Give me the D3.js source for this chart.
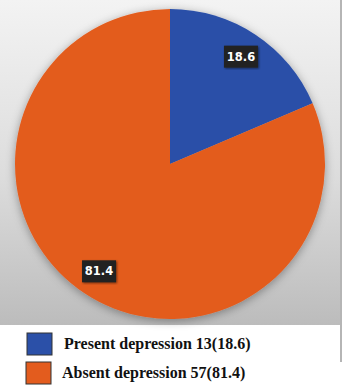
<!DOCTYPE html>
<html>
<head>
<meta charset="utf-8">
<script src="https://cdn.jsdelivr.net/npm/d3@7"></script>
<style>
  body { margin: 0; background: #fff; }
  svg { display: block; }
</style>
</head>
<body>
<div id="chart"></div>
<script>
// Data
const categories = ['Present depression', 'Absent depression'];
const counts = [13, 57];
const percents = [18.6, 81.4];
const colors = ['#2b50a8', '#e35c1e'];

const width = 348;
const height = 387;
const cx = 170;
const cy = 164;
const radius = 155;

const svg = d3
  .select('#chart')
  .append('svg')
  .attr('width', width)
  .attr('height', height);

const defs = svg.append('defs');

// Background gradient of the plot area
const bg = defs
  .append('linearGradient')
  .attr('id', 'bg')
  .attr('x1', 0)
  .attr('y1', 0)
  .attr('x2', 0)
  .attr('y2', 1);
bg.append('stop').attr('offset', '0%').attr('stop-color', '#f3f3f3');
bg.append('stop').attr('offset', '55%').attr('stop-color', '#dcdcdc');
bg.append('stop').attr('offset', '100%').attr('stop-color', '#bcbcbc');

// Soft shadow round the pie
const shadow = defs
  .append('filter')
  .attr('id', 'shadow')
  .attr('x', '-20%')
  .attr('y', '-20%')
  .attr('width', '140%')
  .attr('height', '140%');
shadow
  .append('feDropShadow')
  .attr('dx', 0)
  .attr('dy', 2)
  .attr('stdDeviation', 5)
  .attr('flood-color', '#000')
  .attr('flood-opacity', 0.35);

const labelShadow = defs.append('filter').attr('id', 'lshadow');
labelShadow
  .append('feDropShadow')
  .attr('dx', 1)
  .attr('dy', 1)
  .attr('stdDeviation', 1)
  .attr('flood-color', '#000')
  .attr('flood-opacity', 0.5);

svg
  .append('rect')
  .attr('x', 0)
  .attr('y', 0)
  .attr('width', 341)
  .attr('height', 325)
  .attr('fill', 'url(#bg)');

// right border line
svg
  .append('line')
  .attr('x1', 341)
  .attr('x2', 341)
  .attr('y1', 0)
  .attr('y2', 362)
  .attr('stroke', '#b5b5b5')
  .attr('stroke-width', 2);

// Pie
const pie = d3.pie().sort(null).value((d) => d);
const arcs = pie(percents);
const arc = d3.arc().innerRadius(0).outerRadius(radius);
const labelArc = d3
  .arc()
  .innerRadius(radius * 0.83)
  .outerRadius(radius * 0.83);

const g = svg.append('g').attr('transform', `translate(${cx},${cy})`);

g.append('g')
  .attr('filter', 'url(#shadow)')
  .selectAll('path')
  .data(arcs)
  .join('path')
  .attr('d', arc)
  .attr('fill', (d, i) => colors[i]);

// Data labels
const labels = g
  .selectAll('g.label')
  .data(arcs)
  .join('g')
  .attr('class', 'label')
  .attr('transform', (d) => `translate(${labelArc.centroid(d)})`);

labels
  .append('rect')
  .attr('x', -17)
  .attr('y', -11)
  .attr('width', 34)
  .attr('height', 22)
  .attr('fill', '#222222')
  .attr('filter', 'url(#lshadow)');

labels
  .append('text')
  .attr('text-anchor', 'middle')
  .attr('dy', '0.36em')
  .attr('fill', '#ffffff')
  .attr('font-family', 'DejaVu Sans, sans-serif')
  .attr('font-weight', 'bold')
  .attr('font-size', '11.5px')
  .text((d) => d.data.toFixed(1));

// Legend
const legend = svg
  .append('g')
  .selectAll('g')
  .data(categories)
  .join('g')
  .attr('transform', (d, i) => `translate(${27 - i},${333 + i * 29})`);

legend
  .append('rect')
  .attr('width', 25)
  .attr('height', 22)
  .attr('fill', (d, i) => colors[i])
  .attr('stroke', '#333')
  .attr('stroke-width', 1);

legend
  .append('text')
  .attr('x', (d, i) => 37 - i)
  .attr('y', 16)
  .attr('font-family', 'Liberation Serif, Times New Roman, serif')
  .attr('font-weight', 'bold')
  .attr('font-size', '16px')
  .attr('fill', '#111')
  .text((d, i) => `${d} ${counts[i]}(${percents[i]})`);
</script>
</body>
</html>
